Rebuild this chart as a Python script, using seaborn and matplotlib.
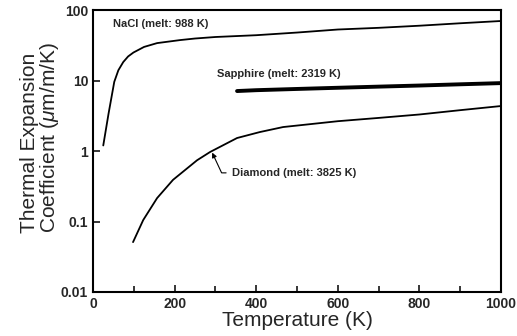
import matplotlib
matplotlib.use("Agg")
import matplotlib.pyplot as plt
import matplotlib.ticker as mticker
import seaborn as sns
import pandas as pd

# values (temperature in K, coefficient in um/m/K)
nacl_temp = [25, 38, 52, 62, 74, 86, 99, 125, 157, 213, 250, 300, 400, 500, 600, 700, 800, 900, 1000]
nacl_cte = [1.2, 3.4, 9.6, 14, 18.3, 22, 25, 30, 34, 37.5, 39.5, 41.5, 44, 48, 53, 56, 60, 65, 70]

sapphire_temp = [353, 400, 500, 600, 700, 800, 900, 1000]
sapphire_cte = [7.1, 7.3, 7.6, 7.9, 8.2, 8.5, 8.85, 9.2]

diamond_temp = [98, 123, 157, 196, 255, 287, 353, 409, 466, 600, 700, 800, 900, 1000]
diamond_cte = [0.051, 0.105, 0.215, 0.39, 0.74, 0.97, 1.53, 1.86, 2.19, 2.65, 2.95, 3.3, 3.8, 4.35]

x_ticks = [0, 200, 400, 600, 800, 1000]
y_ticks = [0.01, 0.1, 1, 10, 100]
y_tick_labels = ["0.01", "0.1", "1", "10", "100"]

sns.set_style("ticks")
plt.rcParams['font.family'] = ['Liberation Sans', 'DejaVu Sans']
plt.rcParams['mathtext.fontset'] = 'custom'
plt.rcParams['mathtext.it'] = 'Liberation Sans:italic'
plt.rcParams['mathtext.rm'] = 'Liberation Sans'

fig = plt.figure(figsize=(5.17, 3.36), dpi=100)
ax = fig.add_axes([0.180, 0.131, 0.789, 0.839])

nacl = pd.DataFrame({'T': nacl_temp, 'cte': nacl_cte})
sapphire = pd.DataFrame({'T': sapphire_temp, 'cte': sapphire_cte})
diamond = pd.DataFrame({'T': diamond_temp, 'cte': diamond_cte})

sns.lineplot(data=nacl, x='T', y='cte', color='black', lw=1.3, ax=ax)
sns.lineplot(data=sapphire, x='T', y='cte', color='black', lw=2.8, ax=ax)
sns.lineplot(data=diamond, x='T', y='cte', color='black', lw=1.3, ax=ax)

ax.set_yscale('log')
ax.set_xlim(0, 1000)
ax.set_ylim(0.01, 100)

ax.set_xticks(x_ticks)
ax.xaxis.set_minor_locator(mticker.MultipleLocator(100))
ax.set_yticks(y_ticks)
ax.set_yticklabels(y_tick_labels)
ax.yaxis.set_minor_locator(mticker.NullLocator())
ax.tick_params(which='both', direction='in', top=False, right=False,
               width=1.3, labelsize=10)
ax.tick_params(which='major', length=5)
ax.tick_params(which='minor', length=4)
for lbl in ax.get_xticklabels() + ax.get_yticklabels():
    lbl.set_fontweight('bold')

for s in ax.spines.values():
    s.set_linewidth(1.5)
    s.set_color('black')

ax.set_xlabel('Temperature (K)', fontsize=15, labelpad=0)
ax.set_ylabel('Thermal Expansion\nCoefficient ($\\mu$m/m/K)', fontsize=15,
              linespacing=0.95, multialignment='left')
ax.yaxis.set_label_coords(-0.078, 0.548)

ax.text(49, 63, 'NaCl (melt: 988 K)', fontsize=8, fontweight='bold', va='center')
ax.text(304, 12.3, 'Sapphire (melt: 2319 K)', fontsize=8, fontweight='bold', va='center')
ax.annotate('Diamond (melt: 3825 K)', xy=(292, 0.95), xytext=(341, 0.49),
            fontsize=8, fontweight='bold', va='center',
            arrowprops=dict(arrowstyle='-|>', color='black', lw=0.8,
                            mutation_scale=7, shrinkA=2, shrinkB=0,
                            connectionstyle='angle,angleA=0,angleB=115,rad=0'))

fig.savefig('out.png', dpi=100)
